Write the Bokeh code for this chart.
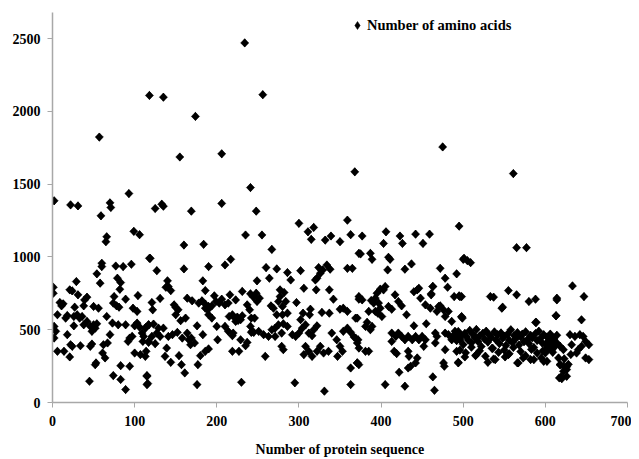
from bokeh.plotting import figure
from bokeh.models import Range1d, FixedTicker, Legend, LegendItem, ColumnDataSource
from bokeh.embed import file_html
from bokeh.resources import INLINE
import numpy as np

# ---- data: (protein sequence number, number of amino acids) ----
seg1_x = [2,22,31,70,71,59,99,106,66,65,1,1,118,60,60,54,58,77,86,96,79,83,82,29,21,24,31,42,39,38,9,13,11,27,50,56,
          75,74,78,81,89,104,98,103,6,16,18,26,30,33,36,26,42,38,46,50,52,48,54,66,73,70,80,2,4,2,18,22,24,34,6,14,21,
          46,48,62,61,64,67,89,94,92,97,100,103,106,109,111,110,114,117,100,107,114,117,52,53,83,94,74,83,45,89,115,115,57,93]
seg1_y = [1386,1358,1351,1372,1340,1283,1176,1153,1139,1105,792,751,991,957,934,884,820,938,934,950,854,824,778,831,774,767,740,724,705,664,687,678,664,655,660,648,
          728,683,664,655,710,735,648,626,603,580,598,591,603,580,591,527,557,534,523,534,511,489,541,591,546,466,534,523,489,443,466,397,386,390,352,352,313,
          386,402,397,340,306,409,534,443,420,454,527,546,518,477,454,420,518,534,340,329,352,420,260,272,253,249,185,158,146,89,185,123,1824,1436]

seg2_x = [125,133,135,169,206,235,160,184,119,127,160,190,210,217,140,141,144,138,183,186,131,121,122,148,150,153,150,156,162,164,170,
          178,182,186,190,194,197,199,203,206,210,214,216,223,231,237,245,186,190,194,189,215,219,225,229,223,231,240,242,
          113,117,123,129,135,127,121,131,125,117,141,146,152,158,164,166,169,173,168,176,183,139,137,144,154,157,161,177,176,
          200,210,201,186,190,180,214,219,222,226,220,219,227,229,235,237,242,243,113,115,116,230,118,135,155,174,206]
seg2_y = [1333,1363,1349,1315,1368,1151,1082,1087,991,906,918,934,945,984,836,797,769,792,836,769,715,687,637,671,653,637,603,562,580,717,699,
          683,699,676,660,664,733,694,683,710,671,683,740,705,763,671,728,648,603,580,637,591,603,587,569,557,596,637,580,
          511,534,539,511,511,477,454,454,404,413,454,466,482,443,477,431,443,409,397,527,466,374,317,276,322,260,203,260,123,
          523,523,431,352,368,322,489,459,580,564,477,352,352,431,390,413,482,489,317,180,130,139,2110,2098,1687,1966,1709]

seg3_x = [248,300,311,318,315,332,339,350,359,363,373,255,267,260,273,286,302,290,264,249,324,334,329,326,322,320,338,359,365,
          306,321,337,342,373,241,244,248,252,249,277,282,277,275,280,284,286,280,273,269,266,297,314,313,305,302,328,337,350,354,359,369,
          246,241,245,251,257,263,267,271,275,281,286,279,271,292,296,300,304,308,312,316,318,322,
          308,312,306,316,322,326,330,336,340,346,350,353,347,354,359,363,367,371,373,279,281,259,371,363,363,331,295,234,241,256]
seg3_y = [1315,1231,1173,1203,1121,1116,1144,1105,1253,1153,1025,1151,1052,927,918,893,906,842,854,836,927,945,911,888,854,842,916,922,922,
          785,774,774,710,710,747,728,751,717,694,774,756,728,694,660,694,614,603,603,648,664,687,641,603,614,569,619,614,641,648,626,580,
          580,523,482,489,466,454,500,511,534,541,523,477,454,466,454,477,511,534,477,459,500,527,
          386,352,329,317,352,386,340,352,477,431,386,352,317,489,511,482,450,409,374,386,363,317,272,237,123,78,135,2471,1477,2115]

seg4_x = [495,377,406,403,423,426,442,459,451,375,387,389,409,411,408,429,437,472,478,492,481,463,461,495,500,
          399,405,403,395,393,391,388,377,373,397,399,393,396,401,385,383,389,387,381,371,369,372,371,373,381,385,
          409,413,417,421,425,431,440,444,446,448,454,460,463,461,468,470,472,476,478,482,486,489,496,498,492,490,
          413,418,421,425,429,433,438,442,446,450,454,440,455,466,468,478,482,486,488,492,496,
          413,416,419,433,434,444,442,436,433,422,452,466,478,476,477,492,494,463,429,405,465,368,475]
seg4_y = [1212,1144,1173,1093,1144,1093,1157,1157,1093,1021,1025,984,998,984,911,916,952,922,854,884,792,797,747,733,984,
          779,797,774,751,717,683,701,705,728,683,648,626,614,591,626,551,523,500,523,580,443,431,272,260,352,352,
          660,641,740,694,664,603,761,774,785,717,671,648,797,740,626,660,664,637,591,626,557,728,728,591,477,489,
          477,454,477,454,431,454,431,454,431,454,431,527,541,477,454,477,466,431,454,443,431,
          420,352,336,352,317,306,272,249,237,208,386,409,363,272,249,352,272,176,112,123,84,1585,1756]

seg5_x = [490,492,494,496,498,500,502,504,506,508,510,512,514,516,518,520,522,524,526,528,530,532,534,536,538,540,542,544,546,548,
          550,552,554,556,558,560,562,564,566,568,570,572,574,576,578,580,582,584,586,588,590,592,594,596,598,600,602,604,606,608,610,612,614,
          496,503,510,520,527,535,543,550,556,561,570,576,583,590,597,604,609,
          494,502,515,530,539,551,555,567,573,586,595,600,516,537,566,582,598,618,622,617,620,626,626,
          499,548,588,533,537,555,565,580,588,614,547,498,589,613,498,565,577,501,505,509,561]
seg5_y = [470,425,488,440,462,398,475,452,430,495,410,468,445,502,420,458,385,476,436,490,415,462,448,372,485,430,466,405,478,442,
          455,392,470,428,500,412,460,438,480,395,452,470,418,486,432,405,462,445,378,474,426,490,440,410,466,398,450,425,470,400,440,388,462,
          360,342,380,355,318,372,345,360,335,378,350,322,365,340,355,372,345,
          276,313,322,276,295,313,329,272,306,295,306,340,329,299,272,295,283,260,249,169,164,226,180,
          580,655,550,728,724,769,740,694,710,717,648,587,551,596,728,1064,1064,991,975,961,1573]

seg6_x = [606,610,614,604,608,600,602,618,622,616,618,622,626,619,623,628,631,630,636,642,646,649,653,644,640,638,649,653,632,
          613,644,614,633,647]
seg6_y = [454,431,409,386,363,352,283,386,363,306,260,214,246,175,300,262,330,466,454,466,454,420,397,386,363,340,306,295,397,
          596,568,705,801,728]

x_ticks = [0, 100, 200, 300, 400, 500, 600, 700]
y_ticks = [0, 500, 1000, 1500, 2000, 2500]
series_name = "Number of amino acids"
x_title = "Number of protein sequence"

seq = seg1_x + seg2_x + seg3_x + seg4_x + seg5_x + seg6_x
amino = seg1_y + seg2_y + seg3_y + seg4_y + seg5_y + seg6_y

FONT = "Liberation Serif"

p = figure(width=631, height=459, output_backend="svg", toolbar_location=None,
           x_range=Range1d(0, 700), y_range=Range1d(0, 2680),
           min_border_left=52, min_border_right=4, min_border_top=12, min_border_bottom=56)
p.outline_line_color = None
p.xgrid.grid_line_color = None
p.ygrid.grid_line_color = None

src = ColumnDataSource(dict(x=seq, y=amino))
# diamond renderer (legend key) drawn under the rotated squares
key = p.scatter("x", "y", source=src, marker="diamond", size=8.2,
                fill_color="black", line_color="black", line_width=0.5)
p.scatter("x", "y", source=src, marker="square", angle=np.pi / 4, size=5.8,
          fill_color="black", line_color="black", line_width=0.5)

for ax in (p.xaxis[0], p.yaxis[0]):
    ax.axis_line_color = "#a8a8a8"
    ax.axis_line_width = 1.5
    ax.major_tick_line_color = "#a8a8a8"
    ax.major_tick_line_width = 1
    ax.major_tick_in = 0
    ax.major_tick_out = 5
    ax.minor_tick_line_color = None
    ax.major_label_text_font = FONT
    ax.major_label_text_font_style = "bold"
    ax.major_label_text_font_size = "14px"
    ax.major_label_text_color = "black"

p.xaxis.ticker = FixedTicker(ticks=x_ticks)
p.yaxis.ticker = FixedTicker(ticks=y_ticks)
p.xaxis.major_label_standoff = 8
p.yaxis.major_label_standoff = 7
p.xaxis.axis_label = x_title
p.xaxis.axis_label_text_font = FONT
p.xaxis.axis_label_text_font_style = "bold"
p.xaxis.axis_label_text_font_size = "14px"
p.xaxis.axis_label_text_color = "black"
p.xaxis.axis_label_standoff = 13

legend = Legend(items=[LegendItem(label=series_name, renderers=[key])],
                location=(295, 367), padding=0, margin=0, spacing=0,
                glyph_width=20, glyph_height=20, label_height=20, label_standoff=0,
                border_line_alpha=0, background_fill_alpha=0,
                label_text_font=FONT, label_text_font_style="bold",
                label_text_font_size="14.5px", label_text_color="black")
p.add_layout(legend)

open("out.html", "w").write(file_html(p, INLINE))
